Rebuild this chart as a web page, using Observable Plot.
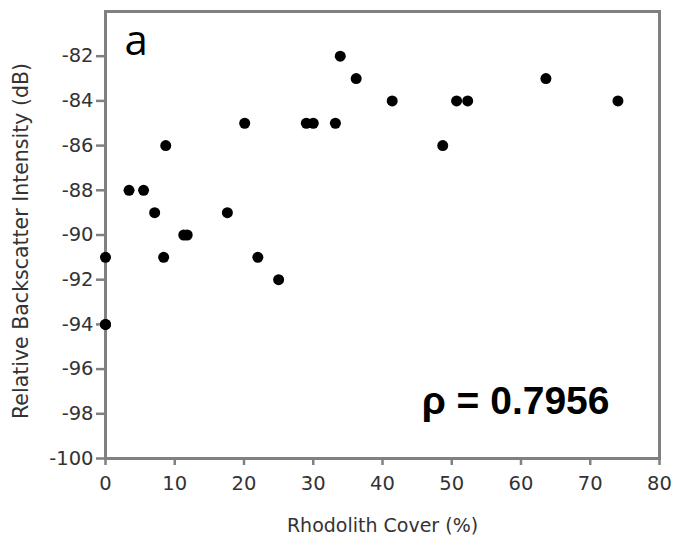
<!DOCTYPE html>
<html><head><meta charset="utf-8">
<script src="https://cdn.jsdelivr.net/npm/d3@7"></script>
<script src="https://cdn.jsdelivr.net/npm/@observablehq/plot@0.6"></script>
<style>
body{margin:0;background:#fff;}
</style>
</head><body>
<div id="chart"></div>
<script>
const cover = [0, 0, 0, 3.4, 5.5, 7.1, 8.4, 8.7, 11.3, 11.8, 17.6, 20.1, 22.0, 25.0, 29.0, 30.0, 33.2, 33.9, 36.2, 41.4, 48.7, 50.7, 52.3, 63.6, 74.0];
const backscatter = [-91, -94, -94, -88, -88, -89, -91, -86, -90, -90, -89, -85, -91, -92, -85, -85, -85, -82, -83, -84, -86, -84, -84, -83, -84];
const xTicks = [0, 10, 20, 30, 40, 50, 60, 70, 80];
const yTicks = [-82, -84, -86, -88, -90, -92, -94, -96, -98, -100];
const xLabel = "Rhodolith Cover (%)";
const yLabel = "Relative Backscatter Intensity (dB)";
const panelLabel = "a";
const rhoLabel = "ρ = 0.7956";

const data = cover.map((c, i) => ({cover: c, db: backscatter[i]}));

const chart = Plot.plot({
  width: 674,
  height: 543,
  marginLeft: 105,
  marginRight: 15,
  marginTop: 11,
  marginBottom: 85,
  style: {fontFamily: "'DejaVu Sans', sans-serif", fontSize: "18px", color: "#333", background: "#fff"},
  x: {domain: [0, 80]},
  y: {domain: [-100, -80]},
  marks: [
    Plot.axisX({ticks: xTicks, tickFormat: d => String(d), tickSize: 7, tickPadding: 11, stroke: "#808080", strokeWidth: 2.5, fill: "#333", fontSize: 19.5, label: null}),
    Plot.axisY({ticks: yTicks, tickFormat: d => String(d), tickSize: 9, tickPadding: 3, stroke: "#808080", strokeWidth: 2.5, fill: "#333", fontSize: 19.5, label: null}),
    Plot.text([xLabel], {frameAnchor: "bottom", dy: 67, text: d => d, fontSize: 19, fill: "#333", lineAnchor: "middle"}),
    Plot.text([yLabel], {frameAnchor: "left", dx: -84, dy: 6, rotate: -90, text: d => d, fontSize: 20.5, fill: "#333", textAnchor: "middle", lineAnchor: "middle"}),
    Plot.frame({stroke: "#808080", strokeWidth: 3}),
    Plot.dot(data, {x: "cover", y: "db", r: 5.5, fill: "#000", stroke: null}),
    Plot.text([panelLabel], {frameAnchor: "top-left", dx: 19, dy: 14, text: d => d, fontSize: 42, fontFamily: "'Open Sans', sans-serif", fill: "#000", textAnchor: "start", lineAnchor: "top"}),
    Plot.text([rhoLabel], {frameAnchor: "bottom-right", dx: -50, dy: -45, text: d => d, fontSize: 39, fontWeight: "bold", fontFamily: "'Liberation Sans', Arial, sans-serif", fill: "#000", textAnchor: "end", lineAnchor: "bottom"})
  ]
});
document.getElementById("chart").appendChild(chart);
</script>
</body></html>
